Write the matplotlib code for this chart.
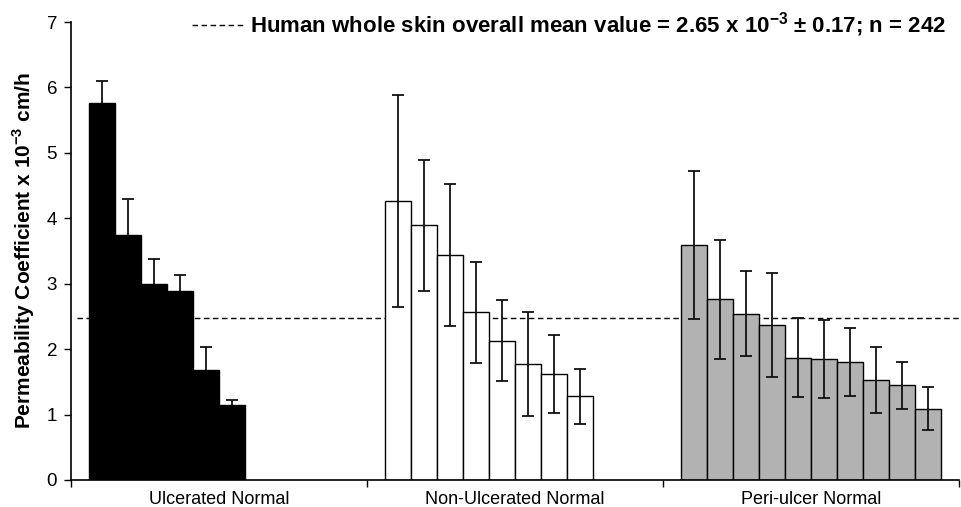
import matplotlib.pyplot as plt
from matplotlib.lines import Line2D

# data
groups = ['Ulcerated Normal', 'Non-Ulcerated Normal', 'Peri-ulcer Normal']
ulcerated = [5.76, 3.74, 2.99, 2.89, 1.68, 1.14]
ulcerated_err = [0.34, 0.55, 0.38, 0.25, 0.35, 0.08]
non_ulcerated = [4.27, 3.89, 3.44, 2.56, 2.13, 1.77, 1.62, 1.28]
non_ulcerated_err = [1.62, 1.00, 1.08, 0.77, 0.62, 0.79, 0.59, 0.42]
peri_ulcer = [3.59, 2.76, 2.54, 2.37, 1.87, 1.85, 1.81, 1.53, 1.45, 1.09]
peri_ulcer_err = [1.13, 0.91, 0.65, 0.79, 0.60, 0.59, 0.52, 0.50, 0.36, 0.33]
whole_skin_mean = 2.48

plt.rcParams['font.family'] = ['Liberation Sans', 'DejaVu Sans']
plt.rcParams['mathtext.fontset'] = 'custom'
plt.rcParams['mathtext.bf'] = 'Liberation Sans:bold'
plt.rcParams['mathtext.rm'] = 'Liberation Sans'

fig = plt.figure(figsize=(9.62, 5.07), dpi=100)
ax = fig.add_axes([0.0738, 0.0533, 0.9228, 0.9033])

bar_w = 0.0877
offset = 0.062
series = [(ulcerated, ulcerated_err, 'black'),
          (non_ulcerated, non_ulcerated_err, 'white'),
          (peri_ulcer, peri_ulcer_err, '#b2b2b2')]

for i, (vals, errs, col) in enumerate(series):
    xs = [i + offset + bar_w * (j + 0.5) for j in range(len(vals))]
    ax.bar(xs, vals, width=bar_w, color=col, edgecolor='black', linewidth=1.0, zorder=2)
    if col == 'black':
        # only the upper half shows above the black bars
        eb = ax.errorbar(xs, vals, yerr=[[0] * len(errs), errs], fmt='none',
                         ecolor='#111111', elinewidth=1.3, capsize=4, capthick=1.3, zorder=3)
        eb[1][0].set_visible(False)
    else:
        ax.errorbar(xs, vals, yerr=errs, fmt='none', ecolor='#111111', elinewidth=1.3,
                    capsize=4, capthick=1.3, zorder=3)

ax.axhline(whole_skin_mean, xmin=0.007, xmax=1, color='black', lw=1.0,
           dashes=(4, 2.5), zorder=1)

ax.set_xlim(0, 3)
ax.set_ylim(0, 7)
ax.set_yticks(range(8))
ax.set_xticks([0, 1, 2, 3])
ax.set_xticklabels([])
ax.set_xticks([0.5, 1.5, 2.5], minor=True)
ax.set_xticklabels(groups, minor=True, fontsize=13)
ax.tick_params(axis='x', which='minor', length=0, pad=8)
ax.tick_params(axis='x', which='major', length=5, width=1)
ax.tick_params(axis='y', length=5, width=1, labelsize=13.5, pad=5)
for s in ['top', 'right']:
    ax.spines[s].set_visible(False)
for s in ['left', 'bottom']:
    ax.spines[s].set_linewidth(1.2)

ax.set_ylabel(r'Permeability Coefficient x 10$^{\mathbf{-3}}$ cm/h',
              fontsize=15, fontweight='bold', labelpad=7)

handle = Line2D([], [], color='black', lw=1.0, dashes=(4, 2.5))
fig.legend([handle],
           [r'Human whole skin overall mean value = 2.65 x 10$^{\mathbf{-3}}$ $\mathbf{\pm}$ 0.17; n = 242'],
           loc='center right', bbox_to_anchor=(0.983, 0.951), frameon=False,
           borderpad=0, borderaxespad=0, handlelength=2.35, handletextpad=0.25,
           prop={'weight': 'bold', 'size': 16})

fig.savefig('out.png', dpi=100)
